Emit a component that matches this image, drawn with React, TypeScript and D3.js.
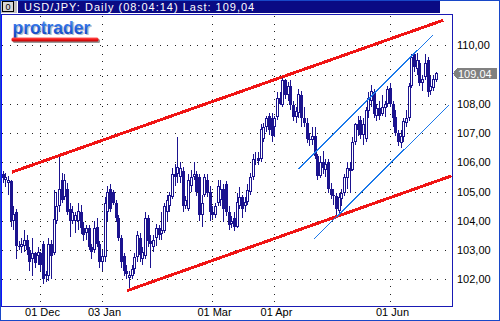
import React from "react";
import * as d3 from "d3";

// ---- data (USD/JPY daily) ----
const opens = [106.8,105.6,105.4,105.3,105.35,104.0,104.3,103.15,103.1,103.15,103.35,103.0,102.7,102.9,102.8,102.9,103.2,102.1,102.1,103.2,102.9,104.0,104.5,105.4,104.8,105.1,104.4,104.0,104.0,104.0,104.3,103.75,103.6,103.75,103.1,103.0,103.8,103.2,102.6,102.75,104.3,105.1,105.0,104.6,104.1,103.4,102.8,102.3,102.05,102.1,102.35,102.75,103.4,102.7,102.8,104.1,103.3,103.1,103.4,103.75,103.55,103.65,104.3,104.5,104.8,105.6,105.6,105.5,105.7,104.5,104.4,105.2,105.5,105.6,105.5,104.2,104.9,105.4,105.0,104.3,104.2,104.6,104.7,105.1,105.25,104.3,103.9,104.1,103.8,104.5,104.8,104.5,104.65,105.0,105.5,106.1,106.15,106.1,106.8,107.2,107.6,107.5,107.2,107.55,108.2,107.95,108.8,108.3,108.6,107.95,107.55,107.7,108.3,107.5,107.35,106.8,106.75,106.9,106.2,105.55,106.0,105.75,106.0,105.1,104.9,104.85,104.35,104.75,104.95,105.45,105.8,105.75,106.7,107.3,107.45,106.95,106.8,107.75,108.1,108.4,107.6,107.85,107.65,107.85,108.0,108.55,108.0,107.55,107.0,106.65,106.85,107.35,107.5,108.6,109.7,109.2,109.4,108.7,108.9,109.5,108.45,108.55,108.8];
const highs = [106.9,105.7,105.65,105.55,105.4,104.5,104.4,103.3,103.4,103.7,103.5,103.1,103.4,102.95,103.1,102.95,103.3,102.3,103.4,103.35,105.05,105.0,106.25,105.65,105.6,105.3,104.6,104.5,104.3,104.6,104.55,103.95,103.85,103.85,103.2,104.0,104.1,103.3,103.0,104.8,105.2,105.25,105.05,104.7,104.2,103.5,102.9,102.5,102.3,102.5,102.9,103.65,103.6,103.1,104.3,104.2,103.5,103.5,103.9,103.85,104.3,104.6,104.9,105.0,105.8,105.95,106.85,106.0,105.85,104.85,105.6,105.75,106.0,105.7,105.6,104.9,105.6,105.6,105.2,104.5,104.6,105.4,105.4,105.25,105.35,104.5,104.15,104.3,104.95,105.15,104.9,104.8,105.25,105.65,106.3,106.35,106.35,107.3,107.35,107.6,107.7,107.7,107.6,108.4,108.4,108.88,108.85,108.75,108.8,108.1,107.9,108.5,108.45,107.9,107.5,107.0,107.2,107.2,106.3,106.2,106.4,106.1,106.1,105.3,105.1,104.95,104.95,105.1,105.6,106.0,106.0,106.85,107.35,107.6,107.6,107.5,107.9,108.4,108.65,108.5,108.0,108.1,108.3,108.1,108.6,108.7,108.1,107.8,107.1,107.1,107.5,107.8,108.7,109.7,109.75,109.75,109.5,109.0,109.7,109.6,108.95,109.0,109.1];
const lows = [105.5,105.3,105.15,104.9,103.8,103.7,102.7,103.0,102.9,102.95,102.85,102.3,102.1,102.4,102.5,102.3,101.85,101.9,101.95,102.0,102.85,103.9,104.3,104.6,104.7,104.2,103.45,103.9,103.6,103.7,103.55,103.3,103.35,103.0,102.7,102.9,103.1,102.4,102.3,102.6,104.0,104.3,104.55,103.95,103.3,102.4,102.1,102.0,101.7,102.0,102.2,102.6,102.6,102.5,102.7,103.1,102.4,102.95,103.15,103.35,103.35,103.6,104.0,104.3,104.75,105.2,105.3,105.3,104.3,104.4,104.35,105.0,105.4,104.85,104.0,103.8,104.8,104.8,104.0,104.05,104.1,104.5,104.5,103.95,104.15,103.7,103.75,103.65,103.75,104.4,104.1,104.3,104.55,104.9,105.4,105.9,105.9,106.0,106.7,107.05,106.95,106.7,106.85,107.45,107.95,107.9,108.15,108.1,107.8,107.4,107.35,107.5,107.2,107.2,106.65,106.55,106.6,106.1,105.4,105.45,105.6,105.5,104.95,104.75,104.55,104.2,104.25,104.5,104.85,105.1,104.95,105.7,106.6,106.9,106.8,106.6,106.7,107.5,107.9,107.5,107.4,107.45,107.6,107.55,107.9,107.9,107.2,106.9,106.55,106.5,106.7,107.2,107.4,108.55,109.1,109.0,108.6,108.45,108.8,108.25,108.3,108.45,108.75];
const closes = [105.6,105.45,105.5,105.4,104.0,104.25,103.15,103.1,103.2,103.35,103.0,102.6,102.9,102.55,102.95,102.5,102.0,102.2,103.2,102.8,104.05,104.5,105.1,104.7,105.4,104.3,104.0,104.3,104.2,104.35,103.75,103.5,103.75,103.1,102.95,103.75,103.2,102.6,102.8,104.6,105.0,104.4,104.6,104.1,103.4,102.6,102.3,102.2,102.15,102.35,102.75,103.5,102.85,102.95,104.1,103.3,103.2,103.35,103.75,103.5,103.7,104.5,104.7,104.9,105.6,105.5,105.85,105.8,104.5,104.7,105.4,105.5,105.6,105.0,104.2,104.6,105.5,104.95,104.3,104.2,104.5,105.2,105.1,104.4,104.3,103.85,104.0,103.8,104.65,104.8,104.4,104.65,105.05,105.5,106.1,106.15,106.05,107.15,107.2,107.5,107.1,106.9,107.5,108.2,108.0,108.8,108.3,108.6,107.95,107.55,107.75,108.35,107.5,107.35,106.8,106.75,106.9,106.2,105.55,106.0,105.8,105.95,105.1,104.9,104.85,104.4,104.8,104.95,105.5,105.8,105.7,106.7,107.3,107.1,106.95,107.3,107.8,108.2,108.45,107.65,107.85,107.6,107.9,108.0,108.5,108.0,107.5,107.0,106.7,106.9,107.4,107.5,108.6,109.6,109.25,109.5,108.7,108.85,109.4,108.4,108.6,108.85,109.04];

const dateLabels = ["01 Dec", "03 Jan", "01 Mar", "01 Apr", "01 Jun"];
const dateBars = [15, 38, 79, 102, 145];
const gridPrices = [102, 103, 104, 105, 106, 107, 108, 109, 110];
const labelPrices = [110, 108, 107, 106, 105, 104, 103, 102];
const lastPrice = 109.04;
const title = "USD/JPY: Daily (08:04:14) Last: 109,04";

// trend lines: [barFrom, priceFrom, barTo, priceTo]
const redLines = [
  [4.8, 105.68, 164.1, 110.84],
  [47.6, 101.63, 167.2, 105.52],
];
const blueLines = [
  [110.76, 105.77, 160.73, 110.35],
  [116.67, 103.38, 166.79, 107.96],
];

const W = 500;
const H = 321;
const PL = 0, PR = 452, PT = 14, PB = 306;
const FONT = "'Liberation Sans', Arial, sans-serif";
const CANDLE = "#1b138f";

const fmt = (v: number) => d3.format(".2f")(v).replace(".", ",");

export default function App() {
  const x = d3.scaleLinear().domain([0, 162]).range([0.35, 0.35 + 2.69 * 162]);
  const y = d3.scaleLinear().domain([101.09, 111.07]).range([PB, PT]);
  const line = d3.line<[number, number]>().x((d) => x(d[0])).y((d) => y(d[1]));

  const candles = opens.map((o, i) => {
    const c = closes[i];
    const cx = Math.floor(x(i));
    const yH = Math.round(y(highs[i]));
    const yL = Math.round(y(lows[i]));
    const yT = Math.round(y(Math.max(o, c)));
    const yB = Math.round(y(Math.min(o, c)));
    const up = c >= o;
    return (
      <g key={i}>
        <line x1={cx + 0.5} x2={cx + 0.5} y1={yH} y2={yL} stroke={CANDLE} strokeWidth={1} />
        {up ? (
          <rect x={cx - 0.5} y={yT + 0.5} width={2} height={Math.max(yB - yT - 1, 0)} fill="#fff" stroke={CANDLE} strokeWidth={1} />
        ) : (
          <rect x={cx - 1} y={yT} width={3} height={Math.max(yB - yT, 1)} fill={CANDLE} />
        )}
      </g>
    );
  });

  const yLast = Math.round(y(lastPrice)) + 0.5;

  return (
    <svg width={W} height={H} style={{ position: "absolute", left: 0, top: 0, display: "block" }} shapeRendering="crispEdges">
      <defs>
        <clipPath id="plotClip">
          <rect x={PL + 1} y={PT + 1} width={PR - PL - 1} height={PB - PT - 1} />
        </clipPath>
        <linearGradient id="logoGrad" x1="0" y1="0" x2="0" y2="1">
          <stop offset="0" stopColor="#5a9af5" />
          <stop offset="0.5" stopColor="#2463de" />
          <stop offset="1" stopColor="#1040b8" />
        </linearGradient>
        <linearGradient id="barGrad" x1="0" y1="0" x2="0" y2="1">
          <stop offset="0" stopColor="#ff5a5a" />
          <stop offset="0.5" stopColor="#f01818" />
          <stop offset="1" stopColor="#b80000" />
        </linearGradient>
      </defs>
      <rect x={0} y={0} width={W} height={H} fill="#fff" />

      {/* title bar */}
      <rect x={0} y={0} width={17} height={13} fill="#c0c0c0" />
      <rect x={2.5} y={1.5} width={11} height={10} fill="#d8d8d8" stroke="#000" strokeWidth={1} />
      <text x={8} y={10} fontSize={9} fontFamily={FONT} textAnchor="middle" fill="#000">0</text>
      <rect x={18} y={0} width={422} height={13} fill="#0a0a84" />
      <text x={24} y={10.5} fontSize={11} fontFamily={FONT} letterSpacing={1} fill="#fff" style={{ shapeRendering: "auto" }}>{title}</text>

      {/* grid */}
      <g clipPath="url(#plotClip)">
        {gridPrices.map((p) => (
          <line key={p} x1={2} x2={PR} y1={Math.round(y(p)) + 0.5} y2={Math.round(y(p)) + 0.5} stroke="#222" strokeWidth={1} strokeDasharray="1 6.5" />
        ))}
        {dateBars.map((b) => (
          <line key={b} x1={Math.floor(x(b)) + 0.5} x2={Math.floor(x(b)) + 0.5} y1={PT + 2} y2={PB} stroke="#222" strokeWidth={1} strokeDasharray="1 6.5" />
        ))}
      </g>

      {/* logo */}
      <g style={{ shapeRendering: "auto" }}>
        <text x={14} y={35} fontSize={17.5} fontWeight="bold" fontFamily={FONT} fill="#9aa4b8" opacity={0.7}>protrader</text>
        <text x={12.5} y={34} fontSize={17.5} fontWeight="bold" fontFamily={FONT} fill="url(#logoGrad)">protrader</text>
        <rect x={13} y={39} width={87} height={4} rx={1.5} fill="#555" opacity={0.6} />
        <rect x={11.5} y={37.5} width={87} height={4} rx={1.5} fill="url(#barGrad)" />
      </g>

      {/* candles and lines */}
      <g clipPath="url(#plotClip)">
        {candles}
        {redLines.map((l, i) => (
          <path key={i} d={line([[l[0], l[1]], [l[2], l[3]]]) || ""} stroke="#f01414" strokeWidth={3} fill="none" strokeLinecap="square" />
        ))}
        {blueLines.map((l, i) => (
          <path key={i} d={line([[l[0], l[1]], [l[2], l[3]]]) || ""} stroke="#1a78ea" strokeWidth={1} fill="none" />
        ))}
      </g>

      {/* plot frame */}
      <line x1={PL + 0.5} x2={PL + 0.5} y1={PT} y2={PB + 1} stroke="#1010ff" strokeWidth={1} />
      <line x1={1.5} x2={1.5} y1={PT} y2={PB + 1} stroke="#1010ff" strokeWidth={1} />
      <line x1={PL} x2={PR + 1} y1={PT + 0.5} y2={PT + 0.5} stroke="#1a1ab4" strokeWidth={1} />
      <line x1={PR + 0.5} x2={PR + 0.5} y1={PT} y2={PB + 1} stroke="#1a1ab4" strokeWidth={1} />
      <line x1={PL} x2={PR + 1} y1={PB + 0.5} y2={PB + 0.5} stroke="#1a1ab4" strokeWidth={1} />

      {/* price axis */}
      {labelPrices.map((p) => (
        <text key={p} x={457} y={Math.round(y(p)) + 4} fontSize={11} fontFamily={FONT} fill="#000" style={{ shapeRendering: "auto" }}>{fmt(p)}</text>
      ))}
      <path d={`M453,${yLast} L457,${yLast - 5.5} L497,${yLast - 5.5} L497,${yLast + 5.5} L457,${yLast + 5.5} Z`} fill="#808080" />
      <text x={458} y={yLast + 4} fontSize={11} fontFamily={FONT} fill="#fff" style={{ shapeRendering: "auto" }}>{fmt(lastPrice)}</text>

      {/* date axis */}
      {dateBars.map((b, i) => (
        <text key={b} x={Math.floor(x(b)) + 2.5} y={316} fontSize={11} fontFamily={FONT} textAnchor="middle" fill="#000" style={{ shapeRendering: "auto" }}>{dateLabels[i]}</text>
      ))}

      {/* outer frame */}
      <rect x={0.5} y={0.5} width={W - 1} height={H - 1} fill="none" stroke="#1848c8" strokeWidth={1} />
    </svg>
  );
}
